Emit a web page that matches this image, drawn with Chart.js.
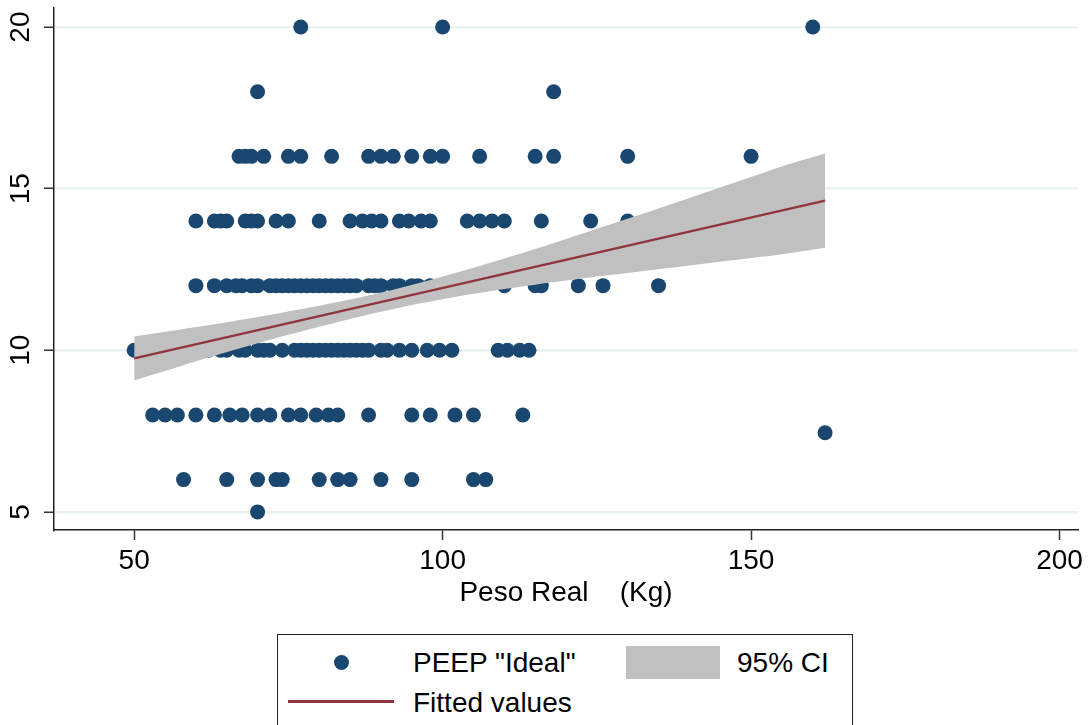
<!DOCTYPE html>
<html>
<head>
<meta charset="utf-8">
<script src="https://cdn.jsdelivr.net/npm/chart.js@4/dist/chart.umd.min.js"></script>
<style>
  html, body { margin: 0; padding: 0; background: #fff; overflow: hidden; }
  #wrap { position: relative; width: 1088px; height: 725px; }
  #c { position: absolute; left: 0; top: 0; }
  .lg { position: absolute; font-family: "Liberation Sans", Arial, sans-serif; font-size: 28px; color: #000; line-height: 1; white-space: pre; }
  #legend { position: absolute; left: 277px; top: 634px; width: 576px; height: 110px; border: 1.5px solid #222; box-sizing: border-box; background: #fff; }
</style>
</head>
<body>
<div id="wrap">
  <canvas id="c" width="1088" height="725"></canvas>
  <div id="legend"></div>
</div>
<script>
// ---- data ----
const weightsAtPeep20 = [77, 100, 160];
const weightsAtPeep18 = [70, 118];
const weightsAtPeep16 = [67, 68, 69, 71, 75, 77, 82, 88, 90, 92, 95, 98, 100, 106, 115, 118, 130, 150];
const weightsAtPeep14 = [60, 63, 64, 65, 68, 69, 70, 73, 75, 80, 85, 87, 88.5, 90, 93, 94.5, 96.5, 98, 104, 106, 108, 110, 116, 124, 130];
const weightsAtPeep12 = [60, 63, 65, 66.5, 67.5, 69, 70, 72, 73, 74, 75, 76, 77, 78, 79, 80, 81, 82, 83, 84, 85, 86, 88, 89, 90, 92, 93, 95, 96, 98, 100, 110, 115, 116, 122, 126, 135];
const weightsAtPeep10 = [50, 55, 58, 60, 62, 64, 65, 67, 68, 70, 71, 72, 74, 76, 77, 78, 79, 80, 81, 82, 83, 84, 85, 86, 87, 88, 90, 91, 93, 95, 97.5, 99.5, 101.5, 109, 110.5, 112.5, 114];
const weightsAtPeep8 = [53, 55, 57, 60, 63, 65.5, 67.5, 70, 72, 75, 77, 79.5, 81.5, 83, 88, 95, 98, 102, 105, 113];
const weightsAtPeep6 = [58, 65, 70, 73, 74, 80, 83, 85, 90, 95, 105, 107];
const weightsAtPeep5 = [70];
const outlierWeight = [162];
const outlierPeep = [7.45];

const fitWeights = [50, 162];
const fitValues = [9.75, 14.63];

const ciWeights = [50, 58, 66, 75, 85, 95, 105, 115, 125, 135, 145, 155, 162];
const ciLower = [9.07, 9.54, 10.00, 10.48, 10.97, 11.40, 11.75, 12.03, 12.28, 12.51, 12.74, 12.97, 13.17];
const ciUpper = [10.43, 10.66, 10.90, 11.20, 11.57, 12.02, 12.55, 13.13, 13.76, 14.39, 15.04, 15.69, 16.09];

const xTicks = [50, 100, 150, 200];
const yTicks = [5, 10, 15, 20];
const xTitle = 'Peso Real    (Kg)';
const legendLabels = ['PEEP "Ideal"', '95% CI', 'Fitted values'];

// ---- build ----
const FONT = '"Liberation Sans", Arial, sans-serif';
const navy = '#1a476f', maroon = '#90353b', silver = '#c0c0c0';

const rows = [[20, weightsAtPeep20], [18, weightsAtPeep18], [16, weightsAtPeep16], [14, weightsAtPeep14],
  [12, weightsAtPeep12], [10, weightsAtPeep10], [8, weightsAtPeep8], [6, weightsAtPeep6], [5, weightsAtPeep5]];
const scatterPts = [];
rows.forEach(([p, ws]) => ws.forEach(w => scatterPts.push({x: w, y: p})));
outlierWeight.forEach((w, i) => scatterPts.push({x: w, y: outlierPeep[i]}));

const fitPts = fitWeights.map((w, i) => ({x: w, y: fitValues[i]}));
const loPts = ciWeights.map((w, i) => ({x: w, y: ciLower[i]}));
const hiPts = ciWeights.map((w, i) => ({x: w, y: ciUpper[i]}));

const yLabelPlugin = {
  id: 'yLabels',
  afterDraw(chart) {
    const ctx = chart.ctx, ys = chart.scales.y;
    ctx.save();
    ctx.fillStyle = '#000';
    ctx.font = '28px ' + FONT;
    ctx.textAlign = 'center';
    ctx.textBaseline = 'middle';
    yTicks.forEach(v => {
      const py = ys.getPixelForValue(v);
      ctx.save();
      ctx.translate(21, py);
      ctx.rotate(-Math.PI / 2);
      ctx.fillText(String(v), 0, 0);
      ctx.restore();
    });
    ctx.restore();
  }
};

new Chart(document.getElementById('c'), {
  type: 'scatter',
  data: {
    datasets: [
      { type: 'line', label: legendLabels[2], data: fitPts, borderColor: maroon, borderWidth: 2.5,
        pointRadius: 0, fill: false, order: 0, tension: 0 },
      { type: 'line', label: 'ci-lo', data: loPts, borderWidth: 0, borderColor: 'rgba(0,0,0,0)',
        pointRadius: 0, fill: false, order: 1, tension: 0.3 },
      { type: 'line', label: legendLabels[1], data: hiPts, borderWidth: 0, borderColor: 'rgba(0,0,0,0)',
        backgroundColor: silver, pointRadius: 0, fill: '-1', order: 1, tension: 0.3 },
      { label: legendLabels[0], data: scatterPts, backgroundColor: navy, borderWidth: 0,
        pointRadius: 7.5, pointHoverRadius: 7.5, order: 2 }
    ]
  },
  options: {
    responsive: false,
    animation: false,
    devicePixelRatio: 1,
    layout: { padding: { left: 0, top: 8, right: 10, bottom: 95 } },
    plugins: { legend: { display: false }, tooltip: { enabled: false } },
    scales: {
      x: {
        type: 'linear', min: 37, max: 203,
        afterBuildTicks: s => { s.ticks = xTicks.map(v => ({value: v})); },
        afterFit: s => { s.height = 100; },
        grid: { display: true, drawOnChartArea: false, drawTicks: true, tickLength: 10, tickColor: '#333', tickWidth: 1.5 },
        border: { display: true, color: '#222', width: 1.5 },
        ticks: { font: { family: FONT, size: 28 }, color: '#000', padding: 4, maxRotation: 0 },
        title: { display: true, text: xTitle, font: { family: FONT, size: 28 }, color: '#000', padding: { top: 0, bottom: 20 } }
      },
      y: {
        type: 'linear', min: 4.44, max: 20.59,
        afterBuildTicks: s => { s.ticks = yTicks.map(v => ({value: v})); },
        afterFit: s => { s.width = 54; },
        grid: { color: '#eaf2f3', lineWidth: 2.5, drawTicks: true, tickLength: 10, tickColor: '#333', tickWidth: 1.5 },
        border: { display: true, color: '#222', width: 1.5 },
        ticks: { display: false }
      }
    }
  },
  plugins: [yLabelPlugin]
});

// ---- legend (HTML) ----
const wrap = document.getElementById('wrap');
function add(html, style) {
  const d = document.createElement('div');
  d.className = 'lg';
  Object.assign(d.style, style);
  if (html !== null) d.textContent = html;
  wrap.appendChild(d);
  return d;
}
add(null, { left: '334px', top: '655px', width: '15px', height: '15px', borderRadius: '50%', background: navy });
add(legendLabels[0], { left: '413px', top: '649px' });
add(null, { left: '626px', top: '646px', width: '94px', height: '33px', background: silver });
add(legendLabels[1], { left: '737px', top: '649px' });
add(null, { left: '288px', top: '700px', width: '106px', height: '3px', background: maroon });
add(legendLabels[2], { left: '413px', top: '689px' });
</script>
</body>
</html>
